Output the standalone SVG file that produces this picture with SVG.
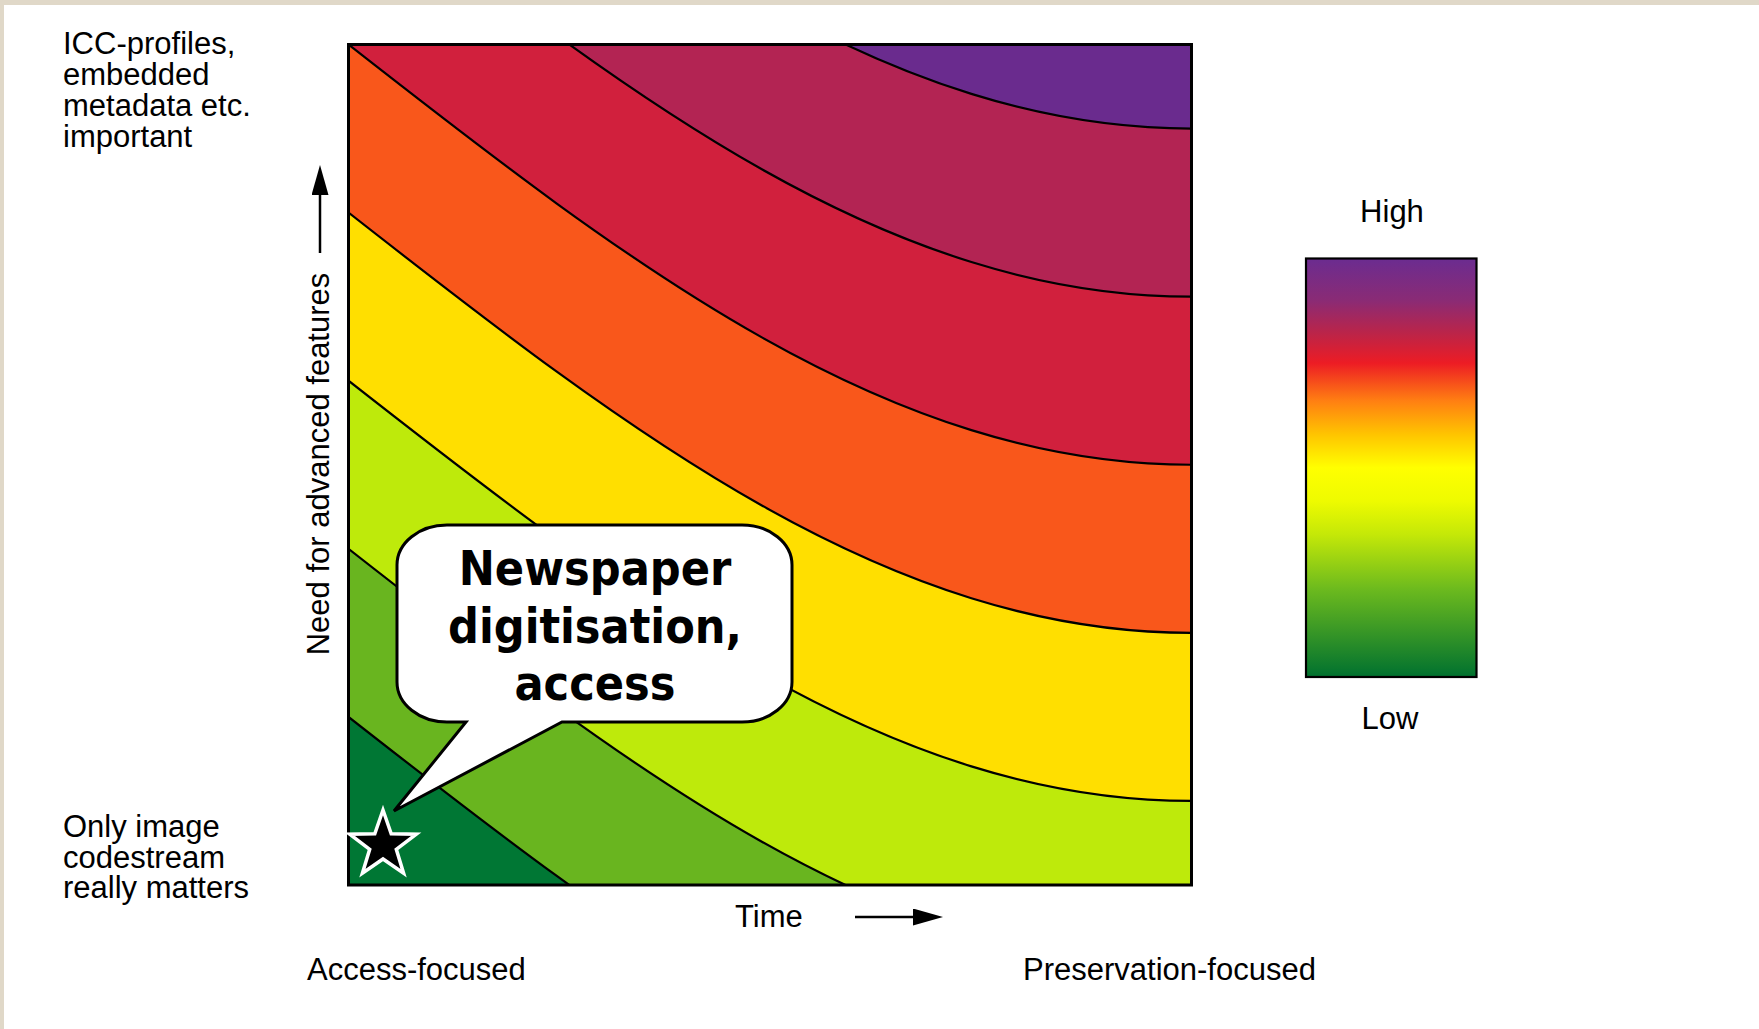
<svg xmlns="http://www.w3.org/2000/svg" width="1759" height="1029" viewBox="0 0 1759 1029">
<style>
.lbl{font-family:"Liberation Sans",Arial,sans-serif;font-size:31px;fill:#000}
.contour{fill:none;stroke:#000;stroke-width:2.2}
.bubbletxt{font-family:"DejaVu Sans Condensed","DejaVu Sans",sans-serif;font-stretch:condensed;font-weight:bold;font-size:48px;fill:#000;text-anchor:middle}
.axis{stroke:#000;stroke-width:2.5;fill:none}
</style>
<defs>
<clipPath id="chartClip"><rect x="348.5" y="44.5" width="843" height="840.5"/></clipPath>
<linearGradient id="legendGrad" x1="0" y1="0" x2="0" y2="1">
<stop offset="0" stop-color="#6B2C90"/>
<stop offset="0.1" stop-color="#8A2B75"/>
<stop offset="0.18" stop-color="#BC2448"/>
<stop offset="0.25" stop-color="#ED1C24"/>
<stop offset="0.34" stop-color="#FF7F12"/>
<stop offset="0.42" stop-color="#FFC400"/>
<stop offset="0.5" stop-color="#FFFF00"/>
<stop offset="0.58" stop-color="#EEFB00"/>
<stop offset="0.66" stop-color="#C4E808"/>
<stop offset="0.79" stop-color="#6CBA1E"/>
<stop offset="1" stop-color="#00712F"/>
</linearGradient>
<marker id="arrow" markerUnits="userSpaceOnUse" markerWidth="30" markerHeight="17" refX="0" refY="8.5" orient="auto">
<path d="M0,0 L30,8.5 L0,17 Z" fill="#000"/>
</marker>
</defs>
<rect x="0" y="0" width="1759" height="1029" fill="#fff"/>
<rect x="0" y="0" width="1759" height="5" fill="#E0D8C8"/>
<rect x="0" y="0" width="4" height="1029" fill="#E0D8C8"/>

<g id="chart">
<g clip-path="url(#chartClip)">
<rect x="348.5" y="44.5" width="843" height="840.5" fill="#007734"/>
<path fill="#69B51F" d="M348.5,716.9 C630.3,937.7 888,1137.15 1191.5,1137.15 L1191.5,-400 L348.5,-400 Z"/>
<path fill="#BEEA0B" d="M348.5,548.8 C630.3,769.6 888,969.05 1191.5,969.05 L1191.5,-400 L348.5,-400 Z"/>
<path fill="#FFDF00" d="M348.5,380.7 C630.3,601.5 888,800.95 1191.5,800.95 L1191.5,-400 L348.5,-400 Z"/>
<path fill="#F9571B" d="M348.5,212.6 C630.3,433.4 888,632.85 1191.5,632.85 L1191.5,-400 L348.5,-400 Z"/>
<path fill="#D1203D" d="M348.5,44.5 C630.3,265.2 888,464.75 1191.5,464.75 L1191.5,-400 L348.5,-400 Z"/>
<path fill="#B32453" d="M348.5,-123.6 C630.3,97.1 888,296.65 1191.5,296.65 L1191.5,-400 L348.5,-400 Z"/>
<path fill="#6A2B8E" d="M348.5,-291.7 C630.3,-71 888,128.55 1191.5,128.55 L1191.5,-400 L348.5,-400 Z"/>
<path class="contour" d="M348.5,716.9 C630.3,937.7 888,1137.15 1191.5,1137.15"/>
<path class="contour" d="M348.5,548.8 C630.3,769.6 888,969.05 1191.5,969.05"/>
<path class="contour" d="M348.5,380.7 C630.3,601.5 888,800.95 1191.5,800.95"/>
<path class="contour" d="M348.5,212.6 C630.3,433.4 888,632.85 1191.5,632.85"/>
<path class="contour" d="M348.5,44.5 C630.3,265.2 888,464.75 1191.5,464.75"/>
<path class="contour" d="M348.5,-123.6 C630.3,97.1 888,296.65 1191.5,296.65"/>
<path class="contour" d="M348.5,-291.7 C630.3,-71 888,128.55 1191.5,128.55"/>
</g>
<rect x="348.5" y="44.5" width="843" height="840.5" fill="none" stroke="#000" stroke-width="3"/>
</g>

<g id="star">
<polygon points="383,810 391.2,833.7 416.3,834.2 396.3,849.3 403.6,873.3 383,859.0 362.4,873.3 369.7,849.3 349.7,834.2 374.8,833.7" fill="#000" stroke="#fff" stroke-width="3.5" stroke-linejoin="miter"/>
</g>

<g id="bubble">
<path d="M447,525 H742 A50 40 0 0 1 792,565 V682 A50 40 0 0 1 742,722 H562 L394,811 L466,722 H447 A50 40 0 0 1 397,682 V565 A50 40 0 0 1 447,525 Z" fill="#fff" stroke="#000" stroke-width="3" stroke-linejoin="miter"/>
<text class="bubbletxt" x="595" y="585">Newspaper</text>
<text class="bubbletxt" x="595" y="643">digitisation,</text>
<text class="bubbletxt" x="595" y="700">access</text>
</g>

<g id="legend">
<text class="lbl" x="1392" y="222" text-anchor="middle">High</text>
<rect x="1306" y="258.5" width="170.5" height="418.5" fill="url(#legendGrad)" stroke="#000" stroke-width="2.2"/>
<text class="lbl" x="1390" y="729" text-anchor="middle">Low</text>
</g>

<g id="label-top">
<text class="lbl" x="63" y="54">ICC-profiles,</text>
<text class="lbl" x="63" y="85">embedded</text>
<text class="lbl" x="63" y="116">metadata etc.</text>
<text class="lbl" x="63" y="147">important</text>
</g>
<g id="label-bottom">
<text class="lbl" x="63" y="837">Only image</text>
<text class="lbl" x="63" y="867.5">codestream</text>
<text class="lbl" x="63" y="898">really matters</text>
</g>
<g id="label-yaxis">
<text class="lbl" transform="translate(329,464) rotate(-90)" text-anchor="middle">Need for advanced features</text>
</g>
<g id="label-time">
<text class="lbl" x="735" y="927">Time</text>
</g>
<g id="label-access">
<text class="lbl" x="307" y="980">Access-focused</text>
</g>
<g id="label-preservation">
<text class="lbl" x="1023" y="980">Preservation-focused</text>
</g>

<g id="connectors">
<line class="axis" x1="320" y1="253" x2="320" y2="195" marker-end="url(#arrow)"/>
<line class="axis" x1="855" y1="917" x2="913" y2="917" marker-end="url(#arrow)"/>
</g>
</svg>
